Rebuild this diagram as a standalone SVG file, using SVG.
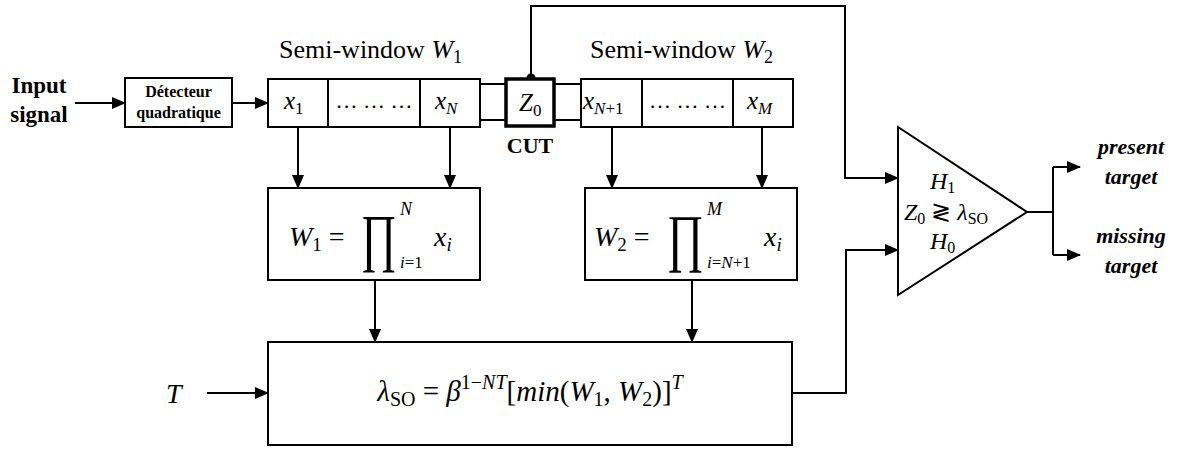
<svg xmlns="http://www.w3.org/2000/svg" width="1185" height="450" viewBox="0 0 1185 450">
<style>
.ln{fill:none;stroke:#000;stroke-width:2}
.bx{fill:#fff;stroke:#000;stroke-width:2}
.thick{fill:#fff;stroke:#000;stroke-width:3.5}
.tb{font-family:"Liberation Serif",serif;font-weight:bold;fill:#000}
.tr{font-family:"Liberation Serif",serif;fill:#000}
.mi{font-family:"Liberation Serif",serif;font-style:italic;fill:#000}
.up{font-style:normal}
.bi{font-family:"Liberation Serif",serif;font-weight:bold;font-style:italic;fill:#000}
</style>
<defs>
<marker id="ah" markerWidth="14" markerHeight="12" refX="13" refY="6" orient="auto" markerUnits="userSpaceOnUse">
<path d="M0,0 L14,6 L0,12 Z" fill="#000"/>
</marker>
</defs>

<g id="connectors">
<path class="ln" d="M75,103 H125" marker-end="url(#ah)"/>
<path class="ln" d="M232,103 H268" marker-end="url(#ah)"/>
<path class="ln" d="M480,84 H505 M480,120 H505 M553,84 H581 M553,120 H581"/>
<path class="ln" d="M298,127 V188" marker-end="url(#ah)"/>
<path class="ln" d="M450,127 V188" marker-end="url(#ah)"/>
<path class="ln" d="M612,127 V188" marker-end="url(#ah)"/>
<path class="ln" d="M762,127 V188" marker-end="url(#ah)"/>
<path class="ln" d="M375,280 V342" marker-end="url(#ah)"/>
<path class="ln" d="M692,280 V342" marker-end="url(#ah)"/>
<path class="ln" d="M207,393 H268" marker-end="url(#ah)"/>
<path class="ln" d="M531,78 V6 H845 V178 H898" marker-end="url(#ah)"/>
<circle cx="531" cy="78" r="4.5" fill="#000"/>
<path class="ln" d="M792,393 H846 V250 H898" marker-end="url(#ah)"/>
<path class="ln" d="M1027,212 H1053 M1053,167 V255"/>
<path class="ln" d="M1053,167 H1080" marker-end="url(#ah)"/>
<path class="ln" d="M1053,255 H1080" marker-end="url(#ah)"/>
</g>

<g id="input-label">
<text class="tb" x="39" y="93" font-size="23" text-anchor="middle">Input</text>
<text class="tb" x="39" y="122" font-size="23" text-anchor="middle">signal</text>
</g>

<g id="detector">
<rect class="bx" x="125" y="78" width="107" height="49"/>
<text class="tb" x="178.5" y="97" font-size="16" text-anchor="middle">Détecteur</text>
<text class="tb" x="178.5" y="118" font-size="16" text-anchor="middle">quadratique</text>
</g>

<g id="window1">
<text class="tr" x="279" y="58" font-size="26">Semi-window <tspan class="mi">W</tspan><tspan font-size="18" dy="5">1</tspan></text>
<rect class="bx" x="268" y="79" width="212" height="48"/>
<path class="ln" d="M328,79 V127 M420,79 V127"/>
<text class="mi" x="284" y="109" font-size="25">x<tspan class="up" font-size="17" dy="5">1</tspan></text>
<text class="tr" x="374" y="108" font-size="22" text-anchor="middle">… … …</text>
<text class="mi" x="435" y="109" font-size="25">x<tspan font-size="17" dy="5">N</tspan></text>
</g>

<g id="cut">
<rect class="thick" x="506" y="79" width="48" height="47"/>
<text class="mi" x="519" y="111" font-size="25">Z<tspan class="up" font-size="17" dy="5">0</tspan></text>
<text class="tb" x="530" y="153" font-size="22" text-anchor="middle">CUT</text>
</g>

<g id="window2">
<text class="tr" x="590" y="58" font-size="26">Semi-window <tspan class="mi">W</tspan><tspan font-size="18" dy="5">2</tspan></text>
<rect class="bx" x="581" y="79" width="212" height="48"/>
<path class="ln" d="M642,79 V127 M733,79 V127"/>
<text class="mi" x="583" y="109" font-size="25">x<tspan font-size="17" dy="5">N<tspan class="up">+1</tspan></tspan></text>
<text class="tr" x="687.5" y="108" font-size="22" text-anchor="middle">… … …</text>
<text class="mi" x="747" y="109" font-size="25">x<tspan font-size="17" dy="5">M</tspan></text>
</g>

<g id="product1">
<rect class="bx" x="268" y="188" width="212" height="92"/>
<text class="mi" x="289" y="246" font-size="28">W<tspan class="up" font-size="19" dy="5">1</tspan><tspan class="up" dy="-5"> =</tspan></text>
<text class="tr" transform="translate(361,259) scale(0.68,1)" font-size="64">∏</text>
<text class="mi" x="400" y="215" font-size="18">N</text>
<text class="mi" x="400" y="268" font-size="17">i<tspan class="up">=1</tspan></text>
<text class="mi" x="434" y="246" font-size="28">x<tspan font-size="19" dy="5">i</tspan></text>
</g>

<g id="product2">
<rect class="bx" x="585" y="188" width="212" height="92"/>
<text class="mi" x="594" y="246" font-size="28">W<tspan class="up" font-size="19" dy="5">2</tspan><tspan class="up" dy="-5"> =</tspan></text>
<text class="tr" transform="translate(667,259) scale(0.7,1)" font-size="64">∏</text>
<text class="mi" x="707" y="215" font-size="18">M</text>
<text class="mi" x="707" y="268" font-size="17">i<tspan class="up">=</tspan>N<tspan class="up">+1</tspan></text>
<text class="mi" x="764" y="246" font-size="28">x<tspan font-size="19" dy="5">i</tspan></text>
</g>

<g id="threshold">
<rect class="bx" x="268" y="342" width="524" height="103"/>
<text class="mi" x="166" y="403" font-size="28">T</text>
<text class="mi" x="530" y="401" font-size="29" text-anchor="middle">λ<tspan class="up" font-size="20" dy="5">SO</tspan><tspan class="up" dy="-5"> = </tspan>β<tspan font-size="20" dy="-12"><tspan class="up">1−</tspan>NT</tspan><tspan class="up" dy="12">[</tspan>min<tspan class="up">(</tspan>W<tspan class="up" font-size="20" dy="5">1</tspan><tspan class="up" dy="-5">, </tspan>W<tspan class="up" font-size="20" dy="5">2</tspan><tspan class="up" dy="-5">)]</tspan><tspan font-size="20" dy="-12">T</tspan></text>
</g>

<g id="comparator">
<path class="bx" d="M898,127 L1027,212 L898,295 Z"/>
<text class="mi" x="930" y="189" font-size="24">H<tspan class="up" font-size="16" dy="4">1</tspan></text>
<text class="mi" x="946" y="220" font-size="24" text-anchor="middle">Z<tspan class="up" font-size="16" dy="4">0</tspan><tspan class="up" dy="-4"> ≷ </tspan>λ<tspan class="up" font-size="16" dy="4">SO</tspan></text>
<text class="mi" x="930" y="249" font-size="24">H<tspan class="up" font-size="16" dy="4">0</tspan></text>
</g>

<g id="outputs">
<text class="bi" x="1131" y="154" font-size="22" text-anchor="middle">present</text>
<text class="bi" x="1131" y="184" font-size="22" text-anchor="middle">target</text>
<text class="bi" x="1131" y="243" font-size="22" text-anchor="middle">missing</text>
<text class="bi" x="1131" y="273" font-size="22" text-anchor="middle">target</text>
</g>
</svg>
